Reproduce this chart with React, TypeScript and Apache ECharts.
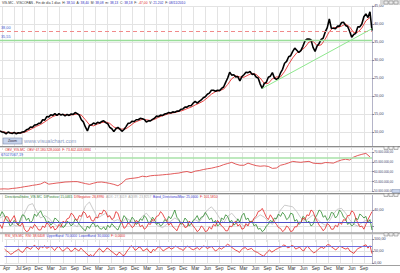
import React, { useEffect, useRef } from 'react';
import * as echarts from 'echarts';

const FONT = 'Liberation Sans, Arial, sans-serif';
const monthNames = ['Jan', 'Feb', 'Mar', 'Apr', 'May', 'Jun', 'Jul', 'Aug', 'Sep', 'Oct', 'Nov', 'Dec'];

// half-month categories: 16 Mar 2003 .. 1 Nov 2010
const categories: string[] = (() => {
  const out: string[] = [];
  let y = 2003, m = 2, half = 1;
  while (out.length < 184) {
    out.push(`${y}-${String(m + 1).padStart(2, '0')}-${half ? '16' : '01'}`);
    if (half) { half = 0; m++; if (m > 11) { m = 0; y++; } } else half = 1;
  }
  return out;
})();

const tickMonths = ['2003-04', '2003-07', '2003-09', '2003-12', '2004-03', '2004-06', '2004-09', '2004-12',
  '2005-03', '2005-06', '2005-09', '2005-12', '2006-03', '2006-06', '2006-09', '2006-12', '2007-03', '2007-06',
  '2007-09', '2007-12', '2008-03', '2008-06', '2008-09', '2008-12', '2009-03', '2009-06', '2009-09', '2009-12',
  '2010-03', '2010-06', '2010-09'];

// half-month closes
const price = [10.3, 10.0, 9.9, 9.5, 10.0, 9.7, 9.6, 9.9, 9.5, 9.8,
  9.7, 10.0, 10.1, 10.6, 10.8, 11.4, 11.3, 11.9, 12.0, 12.4,
  12.5, 13.4, 13.3, 14.3, 14.2, 14.8, 14.6, 15.1, 14.6, 15.1,
  14.7, 14.9, 14.5, 14.9, 14.6, 15.0, 14.9, 15.4, 15.1, 14.7,
  13.4, 12.8, 11.4, 10.3, 11.8, 12.0, 12.5, 12.2, 12.7, 12.5,
  12.9, 13.1, 12.6, 12.3, 11.3, 10.9, 10.1, 10.9, 11.3, 10.8,
  10.2, 10.7, 11.5, 12.4, 12.5, 13.0, 12.9, 13.4, 13.4, 13.8,
  13.7, 13.5, 12.8, 13.1, 13.1, 13.5, 13.8, 14.4, 14.3, 14.7,
  14.6, 15.0, 15.1, 15.4, 15.3, 15.6, 15.5, 15.8, 15.8, 16.3,
  16.4, 16.9, 16.9, 17.3, 17.3, 18.0, 18.5, 18.0, 18.5, 18.9,
  19.5, 19.8, 20.5, 20.8, 21.6, 21.6, 21.3, 21.6, 21.5, 22.1,
  22.5, 23.8, 25.0, 26.6, 25.8, 25.9, 25.3, 25.4, 24.2, 25.4,
  25.9, 26.6, 26.5, 26.8, 26.0, 26.1, 25.3, 25.0, 23.3, 22.1,
  23.5, 23.8, 25.2, 25.5, 26.5, 25.0, 24.6, 25.0, 26.4, 27.4,
  29.1, 29.6, 30.9, 31.2, 32.4, 33.3, 32.7, 32.1, 32.6, 33.8,
  35.3, 35.8, 35.8, 35.6, 33.5, 32.4, 33.9, 34.6, 35.7, 36.1,
  37.8, 39.0, 41.4, 38.8, 38.8, 38.7, 39.4, 39.4, 40.4, 40.5,
  39.6, 39.3, 38.0, 36.3, 37.1, 37.4, 39.2, 39.2, 40.0, 42.0,
  42.8, 41.8, 43.4, 38.2];

// monthly values (one per month, from Mar 2003)
const priceMA = [10.2, 10.0, 9.8, 9.8, 9.7, 9.7, 9.9, 10.4, 11.0, 11.6,
  12.1, 12.8, 13.6, 14.3, 14.7, 14.9, 14.8, 14.7, 14.8, 15.0,
  14.7, 13.4, 12.0, 11.7, 12.2, 12.6, 12.8, 12.4, 11.4, 10.9,
  10.8, 10.9, 11.7, 12.6, 13.1, 13.5, 13.4, 13.2, 13.5, 14.1,
  14.5, 14.9, 15.2, 15.4, 15.7, 16.0, 16.5, 16.9, 17.5, 18.0,
  18.6, 19.5, 20.5, 21.2, 21.5, 21.9, 23.2, 24.8, 25.6, 25.3,
  25.2, 25.8, 26.3, 26.0, 25.0, 23.5, 23.5, 24.8, 25.3, 25.3,
  26.8, 28.8, 30.6, 32.0, 32.6, 33.5, 35.0, 35.2, 34.0, 34.2,
  35.8, 37.9, 39.0, 39.0, 39.4, 40.0, 39.2, 37.6, 37.7, 38.9,
  40.9, 41.8];

const obvMillions = [51.0, 51.1, 51.0, 51.3, 51.5, 51.8, 52.2, 52.5, 52.9, 53.2,
  53.6, 54.6, 53.5, 53.8, 54.1, 54.3, 54.6, 54.7, 54.8, 54.8,
  54.3, 53.8, 53.4, 54.0, 54.5, 54.6, 54.3, 53.9, 53.4, 52.7,
  54.0, 56.0, 56.4, 56.6, 56.9, 57.6, 57.3, 57.8, 58.0, 58.1,
  58.3, 58.5, 58.7, 59.0, 59.2, 59.7, 60.0, 59.4, 60.2, 60.5,
  61.0, 61.4, 61.7, 62.2, 62.7, 63.5, 64.1, 64.7, 63.8, 63.2,
  63.2, 64.3, 63.6, 63.0, 62.7, 62.9, 62.6, 61.6, 61.8, 63.2,
  63.7, 64.4, 65.2, 64.9, 64.7, 65.0, 65.2, 64.3, 64.1, 64.0,
  64.6, 64.5, 64.3, 65.2, 65.9, 66.3, 65.9, 67.4, 68.2, 68.8,
  69.3, 67.5];

// monthly ADX
const adx = [30, 33, 28, 22, 20, 25, 36, 46, 48, 38, 30, 33, 30, 24, 20, 18, 21, 25, 22, 19,
  30, 45, 50, 40, 30, 33, 36, 32, 26, 28, 24, 30, 27, 22, 25, 32, 36, 30, 24, 20,
  18, 22, 26, 30, 27, 22, 19, 24, 28, 25, 32, 40, 44, 38, 30, 24, 32, 36, 30, 24,
  20, 22, 27, 30, 34, 31, 26, 22, 30, 40, 46, 45, 44, 38, 30, 26, 30, 34, 29, 24,
  21, 26, 35, 41, 42, 36, 28, 22, 20, 24, 27, 27];

// half-month DI+, DI-, RSI
const diPlus = [32, 38, 34, 28, 26, 20, 22, 27, 24, 21,
  28, 34, 33, 27, 30, 24, 27, 35, 32, 36,
  39, 33, 30, 24, 26, 21, 24, 30, 28, 25,
  22, 18, 20, 26, 24, 20, 23, 29, 26, 22,
  19, 16, 14, 20, 17, 22, 24, 19, 21, 17,
  16, 19, 15, 21, 18, 23, 20, 17, 15, 21,
  26, 33, 30, 24, 25, 31, 28, 22, 24, 29,
  27, 33, 30, 24, 25, 31, 28, 22, 24, 20,
  22, 28, 26, 32, 29, 34, 40, 31, 28, 22,
  24, 30, 27, 20, 22, 27, 29, 33, 27, 31,
  32, 37, 33, 28, 30, 24, 27, 20, 22, 30,
  28, 34, 32, 25, 27, 21, 23, 29, 25, 33,
  36, 28, 30, 24, 26, 20, 22, 16, 17, 13,
  15, 20, 22, 27, 25, 30, 29, 35, 32, 37,
  34, 28, 30, 36, 35, 26, 28, 22, 24, 32,
  30, 24, 26, 20, 22, 30, 34, 40, 38, 31,
  33, 27, 30, 37, 36, 30, 33, 40, 37, 31,
  29, 22, 24, 20, 22, 30, 28, 35, 33, 30,
  32, 24, 28, 15];
const diMinus = [22, 17, 26, 32, 31, 25, 29, 33, 25, 21,
  20, 24, 16, 13, 14, 19, 17, 22, 19, 15,
  15, 20, 18, 24, 22, 17, 20, 15, 17, 22,
  19, 26, 24, 29, 30, 36, 34, 29, 27, 33,
  32, 38, 36, 30, 33, 27, 26, 31, 30, 36,
  35, 40, 38, 31, 33, 28, 30, 38, 36, 28,
  24, 17, 19, 24, 22, 18, 20, 27, 25, 19,
  21, 16, 18, 23, 22, 28, 27, 32, 33, 38,
  35, 30, 27, 21, 24, 19, 17, 14, 20, 25,
  23, 18, 19, 26, 24, 20, 17, 13, 15, 20,
  18, 13, 14, 19, 16, 22, 20, 27, 24, 20,
  18, 14, 14, 20, 19, 24, 26, 20, 22, 16,
  17, 23, 20, 26, 24, 30, 32, 38, 39, 42,
  37, 31, 28, 34, 30, 25, 22, 18, 17, 13,
  15, 20, 18, 13, 14, 19, 19, 25, 24, 30,
  28, 34, 33, 40, 38, 31, 26, 21, 18, 14,
  17, 23, 21, 16, 16, 21, 19, 25, 22, 28,
  27, 33, 33, 39, 37, 30, 24, 19, 20, 16,
  22, 28, 33, 38];
const rsi = [58, 50, 45, 36, 40, 47, 52, 58, 48, 44,
  55, 66, 62, 57, 68, 74, 63, 56, 70, 64,
  72, 61, 66, 70, 60, 52, 64, 69, 58, 49,
  55, 64, 60, 48, 52, 62, 56, 50, 62, 54,
  45, 38, 30, 35, 26, 40, 48, 60, 56, 45,
  52, 63, 58, 50, 44, 37, 32, 45, 40, 30,
  35, 50, 60, 72, 66, 53, 58, 67, 62, 50,
  55, 60, 48, 42, 57, 52, 63, 68, 60, 50,
  56, 61, 65, 58, 62, 70, 67, 60, 58, 52,
  63, 70, 66, 59, 55, 60, 64, 56, 62, 71,
  68, 60, 65, 69, 60, 50, 55, 63, 58, 64,
  70, 78, 74, 66, 60, 54, 50, 44, 56, 62,
  64, 55, 58, 61, 52, 47, 44, 38, 33, 28,
  38, 47, 55, 45, 50, 56, 60, 65, 68, 75,
  72, 63, 66, 73, 70, 58, 62, 66, 55, 50,
  64, 70, 58, 50, 42, 47, 55, 62, 66, 60,
  70, 77, 74, 66, 60, 54, 64, 70, 66, 61,
  58, 63, 50, 45, 40, 52, 60, 64, 68, 72,
  76, 62, 72, 39];

const resistanceLevel = 38;
const supportLevel = 35.55;
const trendStart = { index: 129, value: 22.1 };
const trendEnd = { index: 183, value: 38.7 };
const lastClose = 38.18;
const obvLevel = 67.02706719;
const obvLast = 67.180528;
const dmiBand = 25;
const adxrLast = 23.93;
const rsiUpper = 70;
const rsiLower = 30;
const rsiLast = 38.64;

const tickSet = new Set(tickMonths);
const tickInterval = (_i: number, val: string) => val.endsWith('-01') && tickSet.has(val.slice(0, 7));
const monthLabel = (val: string) => monthNames[+val.slice(5, 7) - 1];
const monthly = (arr: number[]) => arr.map((v, k) => [categories[2 * k], v]);
const fmt2 = (v: number) => v.toFixed(2).replace('.', ',');
const fmtBig = (v: number) => Math.round(v).toString().replace(/\B(?=(\d{3})+(?!\d))/g, '.') + ',00';

const GRID_C = '#e3e3e3';
const AX_C = '#3c3c64';

const xAxis = (gridIndex: number, labels: boolean) => ({
  type: 'category', gridIndex, data: categories, boundaryGap: false,
  axisLine: { show: false }, axisTick: { show: false },
  axisLabel: { show: labels, interval: tickInterval, formatter: monthLabel, fontSize: 4.6, color: '#333', margin: 3, fontFamily: FONT },
  splitLine: { show: true, interval: tickInterval, lineStyle: { color: GRID_C, width: 1 } },
});

const yAxis = (gridIndex: number, min: number, max: number, interval: number, fmt: (v: number) => string, fs: number, extra: any = {}) => ({
  type: 'value', gridIndex, position: 'right', min, max, interval,
  axisLine: { show: true, lineStyle: { color: '#b4b4c8' } },
  axisTick: { show: true, length: 2, lineStyle: { color: '#8888a0' } },
  axisLabel: { fontSize: fs, color: AX_C, margin: 2, fontFamily: FONT, formatter: fmt, ...(extra.axisLabel || {}) },
  splitLine: { show: true, lineStyle: { color: GRID_C }, ...(extra.splitLine || {}) },
});

const levelLabel = (text: string) => ({ show: true, position: 'insideStartTop', formatter: text, color: '#3a58d0', fontSize: 3.8, fontFamily: FONT, distance: 1 });
const lastLabel = (text: string, fs = 3.8) => ({
  show: true, position: 'end', formatter: text, color: '#222', fontSize: fs, fontFamily: FONT, distance: 2,
  backgroundColor: '#ffffb4', borderColor: '#a0a080', borderWidth: 0.5, padding: [0.5, 1.5],
});
const hidden = { opacity: 0 };

const header = (x: number, y: number, parts: [string, string][], fs = 3.3) => ({
  type: 'text', x, y, z: 120,
  style: {
    text: parts.map(([t, s]) => `{${s}|${t}}`).join(''),
    fontSize: fs, fontFamily: FONT, verticalAlign: 'middle',
    rich: {
      k: { fill: '#333', fontSize: fs, fontFamily: FONT },
      v: { fill: '#2d2dc0', fontSize: fs, fontFamily: FONT },
      r: { fill: '#e02828', fontSize: fs, fontFamily: FONT },
      g: { fill: '#2a7a2a', fontSize: fs, fontFamily: FONT },
      l: { fill: '#a8a8a8', fontSize: fs, fontFamily: FONT },
      b: { fill: '#3a3ad0', fontSize: fs, fontFamily: FONT },
    },
  },
});

const separator = (y: number) => [
  { type: 'rect', z: 110, shape: { x: 0, y, width: 400, height: 2 }, style: { fill: '#dadada' } },
  { type: 'line', z: 111, shape: { x1: 0, y1: y + 0.5, x2: 400, y2: y + 0.5 }, style: { stroke: '#8c8c8c', lineWidth: 1 } },
];
const buttons = (y: number) => [0, 5, 10].map((dx) => ({
  type: 'rect', z: 115, shape: { x: 384 + dx, y, width: 4, height: 3 }, style: { fill: '#ececec', stroke: '#7a7a7a', lineWidth: 0.5 },
}));

const option: any = {
  animation: false,
  backgroundColor: '#ffffff',
  grid: [
    { left: 0, width: 372, top: 6, height: 144 },
    { left: 0, width: 372, top: 152, height: 39 },
    { left: 0, width: 372, top: 194, height: 48 },
    { left: 0, width: 372, top: 239, height: 24 },
  ],
  xAxis: [xAxis(0, false), xAxis(1, false), xAxis(2, false), xAxis(3, true)],
  yAxis: [
    yAxis(0, 5, 45, 5, fmt2, 3.8, { axisLabel: { showMinLabel: false }, splitLine: { showMinLine: false } }),
    yAxis(1, 50, 70, 5, (v) => fmtBig(v * 1e6), 3.0),
    yAxis(2, 0, 60, 20, (v) => (v === 40 ? fmt2(v) : ''), 3.8, { axisLabel: { showMinLabel: false, showMaxLabel: false }, splitLine: { showMinLine: false, showMaxLine: false } }),
    yAxis(3, 0, 100, 50, fmt2, 3.8),
  ],
  series: [
    {
      type: 'line', name: 'MA', xAxisIndex: 0, yAxisIndex: 0, data: monthly(priceMA), symbol: 'none', z: 2,
      lineStyle: { color: '#e83030', width: 0.9 },
    },
    {
      type: 'line', name: 'VIS.MC', xAxisIndex: 0, yAxisIndex: 0, data: price, symbol: 'none', z: 3,
      lineStyle: { color: '#000000', width: 1.6 },
      markLine: {
        silent: true, symbol: ['none', 'none'], label: { show: false },
        data: [
          { yAxis: resistanceLevel, lineStyle: { color: '#f08a8a', type: [4, 3], width: 1 }, label: levelLabel('38,00') },
          { yAxis: supportLevel, lineStyle: { color: '#9ade9a', type: 'solid', width: 1.3 }, label: levelLabel('35,55') },
          [
            { coord: [categories[trendStart.index], trendStart.value], lineStyle: { color: '#8ee88e', type: 'solid', width: 1 }, label: { show: false } },
            { coord: [categories[trendEnd.index], trendEnd.value], lineStyle: { color: '#8ee88e', type: 'solid', width: 1 } },
          ],
          { yAxis: lastClose, lineStyle: hidden, label: lastLabel('38,18') },
        ],
      },
    },
    {
      type: 'line', name: 'OBV', xAxisIndex: 1, yAxisIndex: 1, data: monthly(obvMillions), symbol: 'none',
      lineStyle: { color: '#e04848', width: 0.9 },
      markLine: {
        silent: true, symbol: ['none', 'none'], label: { show: false },
        data: [
          { yAxis: obvLevel, lineStyle: { color: '#a8e2a8', type: 'solid', width: 1.6 }, label: levelLabel('67027067,19') },
          { yAxis: obvLast, lineStyle: hidden, label: lastLabel('67.180.528,00', 3.0) },
        ],
      },
    },
    {
      type: 'line', name: 'ADX', xAxisIndex: 2, yAxisIndex: 2, data: monthly(adx), symbol: 'none', z: 2,
      lineStyle: { color: '#c4c4c4', width: 0.9 },
      markLine: {
        silent: true, symbol: ['none', 'none'], label: { show: false },
        data: [
          { yAxis: dmiBand, lineStyle: { color: '#5050c8', type: 'solid', width: 1 } },
          { yAxis: adxrLast, lineStyle: hidden, label: lastLabel('23,93') },
        ],
      },
    },
    {
      type: 'line', name: 'DI+', xAxisIndex: 2, yAxisIndex: 2, data: diPlus, symbol: 'none', z: 3,
      lineStyle: { color: '#2e8a2e', width: 0.8 },
    },
    {
      type: 'line', name: 'DI-', xAxisIndex: 2, yAxisIndex: 2, data: diMinus, symbol: 'none', z: 4,
      lineStyle: { color: '#e42424', width: 0.8 },
    },
    {
      type: 'line', name: 'RSI', xAxisIndex: 3, yAxisIndex: 3, data: rsi, symbol: 'none',
      lineStyle: { color: '#e02222', width: 0.8 },
      markLine: {
        silent: true, symbol: ['none', 'none'], label: { show: false },
        data: [
          { yAxis: rsiUpper, lineStyle: { color: '#7070e0', type: 'solid', width: 1 } },
          { yAxis: rsiLower, lineStyle: { color: '#7070e0', type: 'solid', width: 1 } },
          { yAxis: rsiLast, lineStyle: hidden, label: lastLabel('38,64') },
        ],
      },
    },
  ],
  graphic: [
    ...separator(146),
    ...separator(193),
    ...separator(232.5),
    { type: 'line', z: 111, shape: { x1: 0, y1: 265.5, x2: 400, y2: 265.5 }, style: { stroke: '#a0a0a0', lineWidth: 1 } },
    { type: 'rect', z: 112, shape: { x: 380, y: 0, width: 20, height: 5 }, style: { fill: '#dadada' } },
    ...buttons(1), ...buttons(146.5), ...buttons(193.5), ...buttons(233),
    { type: 'rect', z: 115, shape: { x: 392, y: 189.5, width: 8, height: 3 }, style: { fill: '#c8d4ec', stroke: '#8090b0', lineWidth: 0.5 } },
    header(2, 2.4, [['VIS.MC - VISCOFAN - Fin de día 1 días  ', 'k'], ['H: ', 'k'], ['38,50  ', 'v'], ['A: ', 'k'], ['38,40  ', 'v'],
      ['M: ', 'k'], ['38,08  ', 'v'], ['m: ', 'k'], ['38,13  ', 'v'], ['C: ', 'k'], ['38,18  ', 'v'], ['F: ', 'k'], ['-47,00  ', 'r'],
      ['V: ', 'k'], ['21.202  ', 'v'], ['F: ', 'k'], ['08/11/2010', 'v']]),
    header(5, 149.4, [['OBV_VIS.MC  OBV: 67.180.528,0000  F: 73.402.403,0884', 'r']]),
    header(5, 196.8, [['DirectionalIndex_VIS.MC  DIPositivo: 15,0465  ', 'g'], ['DINegativo: 26,8990  ', 'r'], ['ADX: 27,3019  ', 'l'],
      ['ADXR: 23,9257  ', 'l'], ['Band_DirectionalMov: 25,0000  ', 'b'], ['F: 101,5810', 'r']]),
    header(5, 235.4, [['RSI_VIS.MC  RSI: 38,6408  ', 'r'], ['UpperBand: 70,0000  LowerBand: 30,0000  ', 'b'], ['F: 0,0000', 'r']]),
    { type: 'rect', z: 115, shape: { x: 3, y: 138, width: 19, height: 6 }, style: { fill: '#c8d4ec', stroke: '#7f8fb0', lineWidth: 0.6 } },
    { type: 'text', z: 116, x: 12.5, y: 141, style: { text: 'Zoom', fontSize: 3.6, fontFamily: FONT, fill: '#334', align: 'center', verticalAlign: 'middle' } },
    { type: 'text', z: 116, x: 24, y: 141.2, style: { text: 'www.visualchart.com', fontSize: 5.6, fontFamily: FONT, fill: '#8c9cc4', verticalAlign: 'middle' } },
  ],
};

export default function App() {
  const ref = useRef<HTMLDivElement>(null);
  useEffect(() => {
    const chart = echarts.init(ref.current!, null, { renderer: 'svg' });
    chart.setOption(option);
    return () => chart.dispose();
  }, []);
  return <div ref={ref} style={{ position: 'fixed', left: 0, top: 0, width: 400, height: 273, background: '#fff' }} />;
}
